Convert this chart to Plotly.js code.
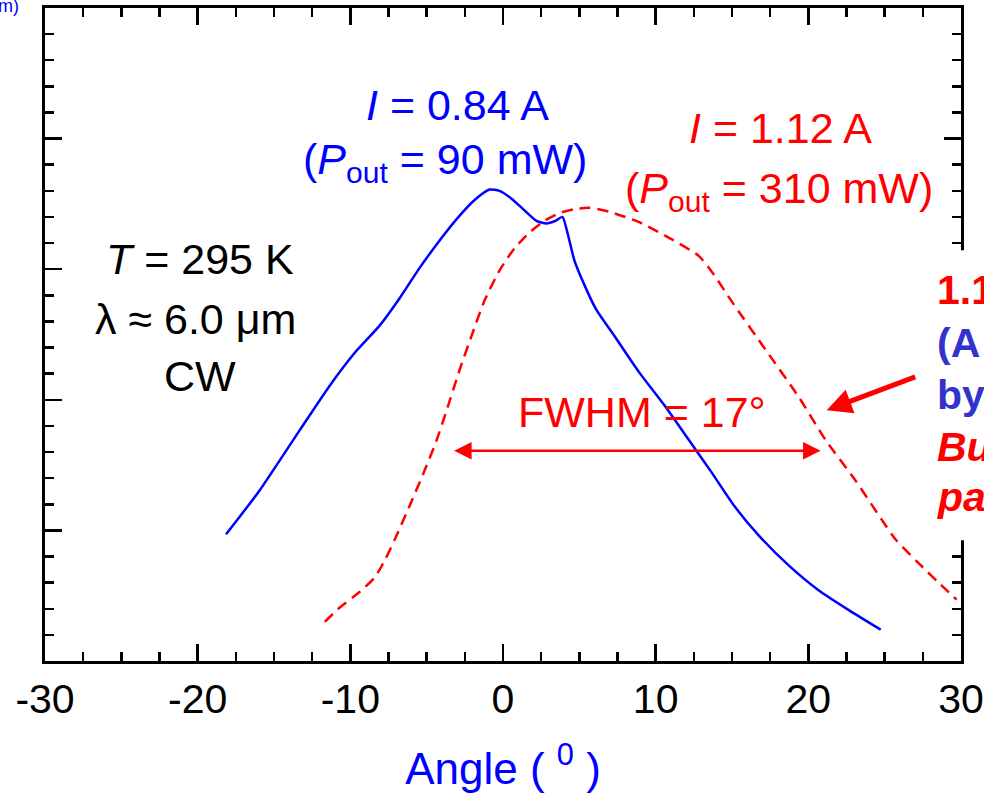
<!DOCTYPE html>
<html>
<head>
<meta charset="utf-8">
<script src="https://cdn.plot.ly/plotly-3.0.1.min.js"></script>
<style>html,body{margin:0;padding:0;background:#fff;}#chart{width:984px;height:795px;}</style>
</head>
<body>
<div id="chart"></div>
<script>
// Far-field profile at I = 0.84 A (blue, solid)
const angleLow = [-18.14,-15.92,-13.30,-11.34,-9.71,-8.07,-6.76,-5.46,-4.15,-2.84,-1.86,-0.88,-0.23,0.56,1.41,2.19,2.84,3.43,3.89,4.22,4.67,5.33,6.11,7.29,8.92,10.56,12.19,13.63,15.13,16.76,18.73,20.69,22.65,24.74];
const intensityLow = [0.97,1.31,1.77,2.11,2.36,2.57,2.78,3.01,3.22,3.41,3.53,3.61,3.60,3.54,3.45,3.37,3.35,3.37,3.40,3.28,3.07,2.88,2.69,2.49,2.21,1.96,1.69,1.45,1.19,0.96,0.73,0.54,0.39,0.24];
// Far-field profile at I = 1.12 A (red, dashed)
const angleHigh = [-11.67,-10.69,-9.38,-8.40,-7.75,-7.09,-6.11,-5.13,-4.35,-3.69,-2.84,-2.06,-1.21,-0.23,0.75,1.73,2.71,3.69,4.67,5.65,6.96,8.92,10.88,12.84,13.80,15.00,17.22,19.38,21.14,23.10,25.72,27.22,28.53,29.71];
const intensityHigh = [0.30,0.41,0.53,0.64,0.77,0.93,1.19,1.46,1.69,1.92,2.23,2.49,2.76,2.99,3.16,3.28,3.37,3.43,3.46,3.47,3.44,3.36,3.24,3.10,2.96,2.75,2.38,2.02,1.69,1.38,0.93,0.75,0.60,0.47];
// FWHM marker ends and level
const fwhmEnds = [-3.3, 20.8];
const fwhmLevel = [1.61];
const xTickVals = [-30,-20,-10,0,10,20,30];
const xTickText = ['-30','-20','-10','0','10','20','30'];

const FONT = 'Arial, "Liberation Sans", Helvetica, sans-serif';
const BLUE = '#0000ff', RED = '#ff0000';

const traces = [
  {x: angleLow, y: intensityLow, type:'scatter', mode:'lines', line:{color:BLUE, width:2.5, shape:'spline', smoothing:0.6}, hoverinfo:'skip'},
  {x: angleHigh, y: intensityHigh, type:'scatter', mode:'lines', line:{color:RED, width:2.5, dash:'11px,7px', shape:'spline', smoothing:0.6}, hoverinfo:'skip'}
];

function txt(text, x, y, color, size, extra) {
  return Object.assign({text:text, x:x, y:y, xref:'x', yref:'y', showarrow:false,
    font:{family:FONT, size:size, color:color}, xanchor:'center', yanchor:'middle'}, extra||{});
}

const annotations = [
  txt('<i>I</i> = 0.84 A', -3.0, 4.26, BLUE, 43),
  txt('(<i>P</i><sub>out</sub> = 90 mW)', -3.82, 3.82, BLUE, 43),
  txt('<i>I</i> = 1.12 A', 18.2, 4.08, RED, 43),
  txt('(<i>P</i><sub>out</sub> = 310 mW)', 18.07, 3.60, RED, 43),
  txt('<i>T</i> = 295 K', -19.84, 3.08, '#000', 43),
  txt('λ ≈ 6.0 μm', -20.16, 2.62, '#000', 43),
  txt('CW', -19.84, 2.18, '#000', 43),
  txt('FWHM = 17°', 9.12, 1.91, RED, 43),
  // FWHM double arrow
  {x: fwhmEnds[1], y: fwhmLevel[0], ax: fwhmEnds[0], ay: fwhmLevel[0], xref:'x', yref:'y', axref:'x', ayref:'y',
   text:'', showarrow:true, arrowhead:2, startarrowhead:2, arrowside:'end+start', arrowsize:1.4, startarrowsize:1.4, arrowwidth:2.5, arrowcolor:RED},
  // pointer arrow
  {x: 21.2, y: 1.92, ax: 27.1, ay: 2.18, xref:'x', yref:'y', axref:'x', ayref:'y',
   text:'', showarrow:true, arrowhead:2, arrowsize:1.0, arrowwidth:5, arrowcolor:RED},
  // right-side partial text block
  {text:'<b>1.1</b>', x:0.972, y:0.568, xref:'paper', yref:'paper', xanchor:'left', yanchor:'middle', showarrow:false, font:{family:FONT,size:41,color:RED}},
  {text:'<b>(A</b>', x:0.972, y:0.487, xref:'paper', yref:'paper', xanchor:'left', yanchor:'middle', showarrow:false, font:{family:FONT,size:41,color:'#3333cc'}},
  {text:'<b>by</b>', x:0.972, y:0.407, xref:'paper', yref:'paper', xanchor:'left', yanchor:'middle', showarrow:false, font:{family:FONT,size:41,color:'#3333cc'}},
  {text:'<b><i>Bu</i></b>', x:0.972, y:0.327, xref:'paper', yref:'paper', xanchor:'left', yanchor:'middle', showarrow:false, font:{family:FONT,size:41,color:RED}},
  {text:'<b><i>pa</i></b>', x:0.972, y:0.251, xref:'paper', yref:'paper', xanchor:'left', yanchor:'middle', showarrow:false, font:{family:FONT,size:41,color:RED}},
  {text:'m)', x:-0.026, y:1.003, xref:'paper', yref:'paper', xanchor:'right', yanchor:'middle', showarrow:false, font:{family:FONT,size:18,color:BLUE}}
];

const layout = {
  width:984, height:795,
  margin:{l:45, r:23, t:7.5, b:134},
  paper_bgcolor:'#fff', plot_bgcolor:'#fff',
  showlegend:false,
  font:{family:FONT, color:'#000'},
  xaxis:{
    range:[-30,30], tickvals:xTickVals, ticktext:xTickText,
    ticks:'inside', ticklen:17, tickwidth:2.5, tickcolor:'#000',
    showline:true, linewidth:3, linecolor:'#000', mirror:'ticks',
    showgrid:false, zeroline:false,
    tickfont:{family:FONT, size:41, color:'#000'},
    minor:{dtick:2.5, ticks:'inside', ticklen:9, tickwidth:2.5, tickcolor:'#000', showgrid:false},
    title:{text:'Angle ( <sup>0</sup> )', font:{family:FONT, size:44, color:BLUE}, standoff:32}
  },
  yaxis:{
    range:[0,5], dtick:1, tick0:0,
    ticks:'inside', ticklen:17, tickwidth:2.5, tickcolor:'#000',
    showline:true, linewidth:3, linecolor:'#000', mirror:'ticks',
    showgrid:false, zeroline:false, showticklabels:false,
    minor:{dtick:0.2, ticks:'inside', ticklen:9, tickwidth:2.5, tickcolor:'#000', showgrid:false}
  },
  shapes:[
    {type:'rect', xref:'paper', yref:'paper', x0:0.968, x1:1.05, y0:0.185, y1:0.629, fillcolor:'#fff', line:{width:0}, layer:'above'}
  ],
  annotations: annotations
};

Plotly.newPlot('chart', traces, layout, {displayModeBar:false, staticPlot:true});
</script>
</body>
</html>
